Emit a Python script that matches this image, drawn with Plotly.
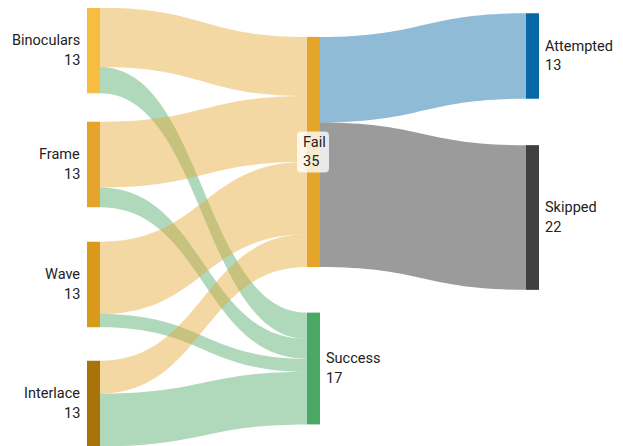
import plotly.graph_objects as go

# ---- data ----
node_names = ["Binoculars", "Frame", "Wave", "Interlace", "Fail", "Success", "Attempted", "Skipped"]
node_totals = [13, 13, 13, 13, 35, 17, 13, 22]
link_sources = ["Binoculars", "Binoculars", "Frame", "Frame", "Wave", "Wave",
                "Interlace", "Interlace", "Fail", "Fail"]
link_targets = ["Fail", "Success", "Fail", "Success", "Fail", "Success",
                "Fail", "Success", "Attempted", "Skipped"]
link_values = [9, 4, 10, 3, 11, 2, 5, 8, 13, 22]

# ---- styles / layout ----
# the page has an 8px body margin, so the figure is 8px smaller than the window
OFF = 8
W, H = 623 - OFF, 446 - OFF
node_colors = ["#F6BD41", "#E5A52D", "#D99A1C", "#A8730A", "#E5A52B", "#4BA766", "#0768A6", "#3F3F3F"]
target_link_color = {
    "Fail": "rgba(229,165,43,0.43)",
    "Success": "rgba(76,168,102,0.44)",
    "Attempted": "rgba(10,106,166,0.46)",
    "Skipped": "rgba(64,64,64,0.52)",
}
# node centres in window pixels (layout)
node_cx = [93.5, 93.5, 93.5, 93.5, 313.5, 313.5, 532.5, 532.5]
node_cy = [50.5, 164.5, 284.5, 403.5, 152, 368.5, 56, 217.5]
node_cx = [c - OFF for c in node_cx]
node_cy = [c - OFF for c in node_cy]

idx = {n: i for i, n in enumerate(node_names)}

fig = go.Figure(go.Sankey(
    arrangement="fixed",
    domain=dict(x=[0, 1], y=[0, 1]),
    node=dict(
        label=node_names,
        color=node_colors,
        thickness=13,
        pad=32,
        line=dict(width=0),
        x=[cx / W for cx in node_cx],
        y=[cy / H for cy in node_cy],
    ),
    textfont=dict(color="rgba(0,0,0,0)", size=1),
    link=dict(
        source=[idx[s] for s in link_sources],
        target=[idx[t] for t in link_targets],
        value=link_values,
        color=[target_link_color[t] for t in link_targets],
    ),
))

font = dict(family="Roboto, sans-serif", size=14.5, color="#222222")
LINE = 10  # half line spacing (px)
annotations = []
shapes = []


def px(xw):
    return xw / W


def py(yw):
    return 1 - yw / H


for i, name in enumerate(node_names):
    cx, cy = node_cx[i], node_cy[i]
    if i < 4:
        ax, anchor, al = cx - 12.5, "right", "right"
    elif name == "Fail":
        ax, anchor, al = cx - 11.5, "left", "left"
        # translucent label box with rounded corners
        x0, x1, y0, y1, r = px(cx - 16.5), px(cx + 15.5), py(cy - 20.5), py(cy + 20.5), 4
        rx, ry = r / W, r / H
        shapes.append(dict(
            type="path", xref="paper", yref="paper", layer="above",
            path=(f"M {x0+rx},{y0} L {x1-rx},{y0} Q {x1},{y0} {x1},{y0-ry} "
                  f"L {x1},{y1+ry} Q {x1},{y1} {x1-rx},{y1} L {x0+rx},{y1} "
                  f"Q {x0},{y1} {x0},{y1+ry} L {x0},{y0-ry} Q {x0},{y0} {x0+rx},{y0} Z"),
            fillcolor="rgba(255,255,255,0.78)", line=dict(width=0)))
    else:
        ax, anchor, al = cx + 11.5, "left", "left"
    for txt, dy in ((name, -LINE), (str(node_totals[i]), LINE)):
        annotations.append(dict(x=px(ax), y=py(cy + dy), xref="paper", yref="paper",
                                text=txt, showarrow=False, xanchor=anchor, yanchor="middle",
                                align=al, font=font, borderpad=0))

fig.update_layout(
    width=W, height=H,
    margin=dict(l=0, r=0, t=0, b=0),
    paper_bgcolor="white",
    plot_bgcolor="white",
    annotations=annotations,
    shapes=shapes,
    showlegend=False,
)

fig.write_html("out.html")
